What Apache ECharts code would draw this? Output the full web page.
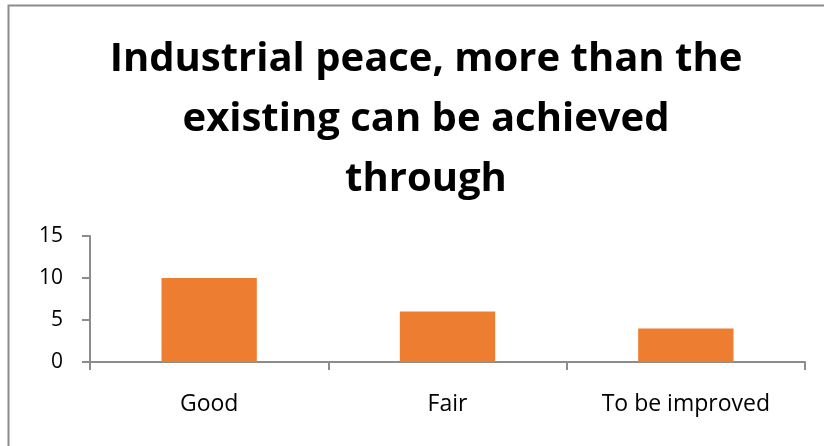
<!DOCTYPE html>
<html><head><meta charset="utf-8">
<script src="https://cdn.jsdelivr.net/npm/echarts@6/dist/echarts.min.js"></script>
<style>html,body{margin:0;padding:0;background:#fff}#c{width:824px;height:446px}</style>
</head><body><div id="c"></div>
<script>
const titleText = "Industrial peace, more than the\nexisting can be achieved\nthrough";
const categories = ["Good", "Fair", "To be improved"];
const values = [10, 6, 4];
const yTicks = { min: 0, max: 15, interval: 5 };

const chart = echarts.init(document.getElementById('c'), null, { renderer: 'canvas' });
chart.setOption({
  animation: false,
  backgroundColor: '#fff',
  graphic: [{
    type: 'rect', shape: { x: 8.5, y: 5.5, width: 830, height: 460 },
    style: { fill: 'none', stroke: '#8c8c8c', lineWidth: 2 }, silent: true
  }],
  title: {
    text: titleText, left: 421, textAlign: 'center', top: 25,
    textStyle: { fontFamily: 'Open Sans', fontWeight: 'bold', fontSize: 40, lineHeight: 60, color: '#000' }
  },
  grid: { left: 90, right: 19, top: 236, bottom: 84 },
  xAxis: {
    type: 'category', data: categories,
    axisLine: { lineStyle: { color: '#8c8c8c', width: 2 } },
    axisTick: { show: true, length: 8, alignWithLabel: false, lineStyle: { color: '#8c8c8c', width: 2 } },
    axisLabel: { color: '#000', fontFamily: 'Open Sans', fontSize: 23, margin: 31 }
  },
  yAxis: {
    type: 'value', min: yTicks.min, max: yTicks.max, interval: yTicks.interval,
    axisLine: { show: true, lineStyle: { color: '#8c8c8c', width: 2 } },
    axisTick: { show: true, length: 8, lineStyle: { color: '#8c8c8c', width: 2 } },
    splitLine: { show: false },
    axisLabel: { color: '#000', fontFamily: 'Open Sans', fontSize: 21, margin: 27 }
  },
  series: [{
    type: 'bar', data: values, barWidth: '40%',
    itemStyle: { color: '#ED7D31' }
  }]
});
</script></body></html>
